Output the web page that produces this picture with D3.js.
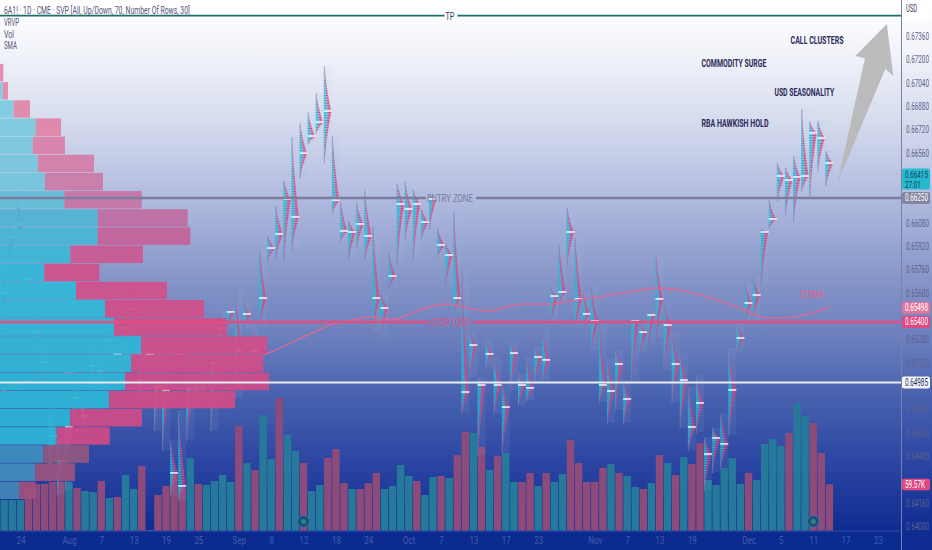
<!DOCTYPE html>
<html><head><meta charset="utf-8">
<script src="https://cdn.jsdelivr.net/npm/d3@7"></script>
<style>html,body{margin:0;padding:0;background:#fff;overflow:hidden}svg{display:block}text{font-family:Roboto,"Liberation Sans",sans-serif}</style>
</head><body><div id="chart"></div>
<script>
// ---------- data ----------
const candleHigh=[.65791,.66065,.66305,.65756,.65551,.65277,.64831,.64660,.64797,.64968,.64865,.65242,.65208,.65379,.65311,.65551,.65654,.65242,.65277,.65071,.65105,.64591,.64797,.65037,.65037,.65071,.65242,.65482,.65503,.65619,.65537,.65379,.65900,.65996,.66202,.66373,.66668,.66764,.66840,.66970,.67155,.66682,.66236,.66099,.66216,.66305,.66065,.65599,.65873,.66353,.66360,.66305,.66181,.66284,.66044,.65942,.66168,.65756,.65331,.65023,.65277,.65160,.64982,.65263,.65050,.65160,.65229,.65345,.65633,.65942,.66188,.65976,.65599,.65640,.65393,.65153,.65208,.65002,.65434,.65393,.65469,.65846,.65537,.65325,.65194,.64954,.65037,.64612,.64680,.64776,.65222,.65400,.65674,.65708,.66044,.66236,.66490,.66463,.66545,.66867,.66778,.66785,.66579];
const candleLow=[.65345,.65825,.65962,.65551,.65174,.65016,.64317,.64214,.64248,.64728,.64660,.64934,.64968,.65105,.65002,.65105,.65242,.64865,.65002,.64660,.64523,.64214,.64180,.64591,.64831,.64865,.64660,.64920,.65359,.64879,.65345,.65140,.65366,.65825,.65839,.65825,.65907,.66394,.66627,.66702,.66497,.66154,.65962,.65825,.65914,.65825,.65331,.65290,.65640,.65804,.65976,.65839,.65976,.66044,.65846,.65654,.65462,.64776,.65023,.64488,.65092,.64776,.64502,.64934,.64831,.64865,.64982,.65002,.65379,.65530,.65791,.65366,.65393,.65208,.64852,.64708,.64797,.64708,.64989,.65187,.65242,.65290,.65071,.64852,.64680,.64523,.64646,.64248,.64372,.64399,.64625,.65194,.65414,.65414,.65654,.66051,.66236,.66147,.66099,.66305,.66257,.66442,.66339];
const candlePoc=[.65599,.65983,.66072,.65695,.65331,.65126,.64618,.64447,.64680,.64879,.64756,.65098,.65064,.65277,.65181,.65359,.65489,.65002,.65181,.64954,.64934,.64365,.64276,.64941,.64948,.64989,.65119,.65359,.65469,.65208,.65455,.65201,.65564,.65907,.66003,.66243,.66120,.66558,.66675,.66771,.66846,.66236,.66024,.66017,.66072,.65990,.65564,.65496,.65715,.66209,.66175,.66209,.66085,.66243,.65928,.65859,.65564,.64920,.65242,.64968,.65181,.64968,.64817,.65187,.64968,.64948,.65160,.65140,.65578,.65606,.66017,.65558,.65455,.65407,.64968,.64927,.65112,.64872,.65407,.65331,.65448,.65558,.65379,.65112,.65002,.64680,.64845,.64495,.64605,.64564,.64934,.65290,.65530,.65585,.66017,.66106,.66401,.66373,.66394,.66401,.66696,.66661,.66490];
const volumeK=[39.5,39.5,39.5,54.9,60.0,60.0,62.5,62.5,62.5,54.9,51.0,49.7,63.8,42.1,43.4,71.4,53.6,82.9,1.3,45.9,57.4,71.4,54.9,93.1,60.0,58.7,63.8,71.4,62.5,133.9,86.7,77.8,148.0,91.8,169.7,122.5,102.0,86.7,51.0,58.7,93.1,104.6,61.2,53.6,53.6,61.2,74.0,53.6,57.4,84.2,70.2,63.8,45.9,68.9,70.2,67.6,96.9,126.3,125.0,107.2,77.8,95.7,99.5,62.5,62.5,74.0,57.4,74.0,62.5,72.7,116.1,86.7,62.5,62.5,80.4,85.5,74.0,70.2,56.1,53.6,61.2,96.9,86.7,71.4,94.4,85.5,112.3,65.1,58.7,80.4,93.1,60.0,74.0,65.1,111.0,117.4,108.4,125.0,163.3,146.7,137.8,99.5,59.57];
const volumeDir="UUUDDDDDUDUUDUDUUDUDDDDUDUUUUDUDUUDUUDUUDDDUDDDUUUUDUUDUDDUDUDUUDDUDUUDDDDDUDUUDUDUDUDDUUUUUDUUUUDUUDDD";
const dateLabels=["24","Aug","7","13","19","25","Sep","8","12","18","24","Oct","7","13","17","23","Nov","7","13","19","Dec","5","11","17","23"];
const dateIndex=[2,8,12,16,20,24,29,33,37,41,45,50,54,58,62,66,73,77,81,85,92,96,100,104,108];
const priceTicks=[.6736,.672,.6704,.6688,.6672,.6656,.6608,.6592,.6576,.656,.6528,.6512,.648,.6464,.6448,.6416,.640];
const profileUp=[0,2.7,13.7,35.7,32.7,37.7,45,64.3,97.7,97.7,70.3,44.3,76,105,114,141,131.3,125,109,70.3,56.7,43.3,35,19];
const profileDown=[3.3,5.3,16.3,25.3,32.3,56.3,58,77.4,90,92.6,72.7,55,91,99,112.7,126.3,132,144,126,71.7,53,45.7,40,16.7];
const profileTop=.67169, profileStep=.001245;
const smaIndex=[-0.5,4.4,10.6,14,17.6,19.3,25.8,31.3,32.9,37.8,40.3,43.1,45,48.1,51.4,53.5,55.1,56.7,59.7,63.8,67.5,70.8,76.1,80.7,83.5,86.9,90.6,94.3,97.5,102.1];
const smaPrice=[.64920,.65023,.65078,.65146,.65187,.65187,.65160,.65160,.65194,.65318,.65380,.65414,.65434,.65420,.65482,.65516,.65523,.65503,.65475,.65523,.65523,.65551,.65592,.65633,.65619,.65571,.65503,.65428,.65434,.65503];
const arrowIndex=[109.1,109.9,108.9,103,106.4,105.2];
const arrowPrice=[.67443,.67086,.67134,.66355,.67208,.67223];
const notes=[["CALL CLUSTERS",97.2,.67333,53],["COMMODITY SURGE",86.2,.67169,65],["USD SEASONALITY",95.2,.66970,60],["RBA HAWKISH HOLD",86.2,.66764,67]];
const levels=[{p:.6625,c:"#7c7c9c",t:"ENTRY ZONE",w:46,lw:2.5},{p:.654,c:"#e64c80",t:"STOP LOSS",w:39,lw:2.5},{p:.64985,c:"#e9ebf3",t:"",w:0,lw:2},{p:.675,c:"#1f6f68",t:"TP",w:9,lw:1.8}];
const badges=[{p:.65498,c:"#e0769e",t:"0.65498",f:"#fff"},{p:.6625,c:"#85859f",t:"0.66250",f:"#fff"},{p:.654,c:"#e0487f",t:"0.65400",f:"#fff"},{p:.64985,c:"#f4f5fa",t:"0.64985",f:"#2a2f55"}];

// ---------- layout ----------
const W=932,H=550,plotR=901,axisY=531;
const svg=d3.select("#chart").append("svg").attr("width",W).attr("height",H);
const defs=svg.append("defs");
const grad=defs.append("linearGradient").attr("id","bg").attr("gradientUnits","userSpaceOnUse").attr("x1",0).attr("x2",0).attr("y1",0).attr("y2",H);
[[0,"#ffffff"],[16,"#fdfdff"],[60,"#eff1f8"],[120,"#d6dcee"],[200,"#b0badf"],[280,"#8595c8"],[340,"#6a7ebd"],[400,"#4660ae"],[460,"#2d46a3"],[531,"#0f2c92"]]
 .forEach(s=>grad.append("stop").attr("offset",s[0]/H).attr("stop-color",s[1]));
svg.append("rect").attr("width",W).attr("height",H).attr("fill","url(#bg)");

// condensed look: every label is squeezed horizontally to the width it has in the picture
const fit=(sel,w)=>sel.each(function(){
  const t=d3.select(this), x0=+t.attr("x")||0, k=w/this.getComputedTextLength();
  t.attr("transform",`translate(${x0},0) scale(${k},1) translate(${-x0},0)`);
});

const x=d3.scaleLinear().domain([0,102]).range([4.2,829.4]);
const y=d3.scaleLinear().domain([.6625,.64]).range([198,526.2]);
const vol=d3.scaleLinear().domain([0,59.57]).range([axisY,484.3]);
const prof=d3.scaleLinear().domain([0,269]).range([0,269]);
const plot=svg.append("g");

// volume
plot.selectAll("rect.v").data(volumeK).join("rect").attr("class","v")
 .attr("x",(d,i)=>x(i)-3.7).attr("width",7.4).attr("y",d=>vol(d)).attr("height",d=>axisY-vol(d))
 .attr("fill",(d,i)=>volumeDir[i]==="U"?"#26799b":"#8c4b7b");

// faint guide lines
[.66415,.66305].forEach(p=>plot.append("line").attr("x1",0).attr("x2",plotR).attr("y1",y(p)).attr("y2",y(p))
 .attr("stroke","#7f9fd8").attr("stroke-opacity",.4).attr("stroke-dasharray","1 3"));

// footprints
const rowStep=.000115;
const cand=plot.selectAll("g.c").data(candlePoc.map((poc,i)=>({i,poc,hi:candleHigh[i],lo:candleLow[i]}))).join("g").attr("class","c");
cand.append("rect").attr("x",d=>x(d.i)-4).attr("width",8).attr("y",d=>y(d.hi)).attr("height",d=>y(d.lo)-y(d.hi))
 .attr("fill","#9fc4ea").attr("opacity",.09);
cand.each(function(d){
  const rows=d3.range(d.lo,d.hi,rowStep).map(p=>{
    const span=p>d.poc?(d.hi-d.poc||1):(d.poc-d.lo||1);
    const k=1-Math.abs(p-d.poc)/span;
    return {p,w:1+6.5*Math.pow(Math.max(k,0),1.5)};
  });
  const g=d3.select(this);
  g.selectAll("rect.u").data(rows).join("rect").attr("class","u")
   .attr("x",x(d.i)-4).attr("width",r=>r.w*.55).attr("y",r=>y(r.p)).attr("height",1.2).attr("fill","#1fbad6");
  g.selectAll("rect.d").data(rows).join("rect").attr("class","d")
   .attr("x",r=>x(d.i)-4+r.w*.55).attr("width",r=>r.w*.45).attr("y",r=>y(r.p)).attr("height",1.2).attr("fill","#e2407e");
});
cand.append("rect").attr("class","poc").attr("x",d=>x(d.i)-4).attr("width",8).attr("y",d=>y(d.poc)-.7).attr("height",1.4).attr("fill","#fff");

// SMA
plot.append("path").datum(smaIndex.map((s,i)=>[s,smaPrice[i]]))
 .attr("fill","none").attr("stroke","#e4678f").attr("stroke-width",1.3)
 .attr("d",d3.line().x(d=>x(d[0])).y(d=>y(d[1])).curve(d3.curveMonotoneX));

// volume-by-price profile
const upCol=d3.scaleLinear().domain([0,6,8,11,20,21,23]).range(["#80cce0","#74c6dc","#50b3d3","#32b8d8","#2cb4d6","#3f8fc0","#4288b8"]);
const dnCol=d3.scaleLinear().domain([0,3,6,8,11,20,21,23]).range(["#e488aa","#e082a6","#cb7aa8","#bf6b9f","#d24f8a","#cf4b88","#93577f","#a0507f"]);
const pg=plot.append("g");
const rowH=Math.abs(y(.64+2*profileStep)-y(.64+profileStep));
profileUp.forEach((u,i)=>{
  const top=y(profileTop-i*profileStep), hh=rowH-.7;
  pg.append("rect").attr("x",0).attr("y",top).attr("width",prof(u)).attr("height",hh).attr("fill",upCol(i)).attr("fill-opacity",.92);
  pg.append("rect").attr("x",prof(u)).attr("y",top).attr("width",prof(profileDown[i])).attr("height",hh).attr("fill",dnCol(i)).attr("fill-opacity",.92);
});

// arrow
plot.append("polygon").attr("points",arrowIndex.map((a,i)=>x(a)+","+y(arrowPrice[i])).join(" ")).attr("fill","#b8b8b8").attr("fill-opacity",.95);

// horizontal levels
levels.forEach(l=>{
  const yy=y(l.p), half=l.w?l.w/2+1:0;
  if(half){
    plot.append("line").attr("x1",0).attr("x2",450-half).attr("y1",yy).attr("y2",yy).attr("stroke",l.c).attr("stroke-width",l.lw);
    plot.append("line").attr("x1",450+half+2).attr("x2",plotR).attr("y1",yy).attr("y2",yy).attr("stroke",l.c).attr("stroke-width",l.lw);
    plot.append("text").attr("x",450-l.w/2).attr("y",yy+4).attr("font-size",11.5).attr("fill",l.t==="TP"?"#3a4560":l.c).text(l.t).call(fit,l.w);
  } else {
    plot.append("line").attr("x1",0).attr("x2",plotR).attr("y1",yy).attr("y2",yy).attr("stroke",l.c).attr("stroke-width",l.lw);
  }
});

// annotations
notes.forEach(n=>plot.append("text").attr("x",x(n[1])).attr("y",y(n[2])+3.5).attr("font-size",10.5).attr("font-weight",700).attr("fill","#2c2a58").text(n[0]).call(fit,n[3]));
plot.append("text").attr("x",x(98.3)).attr("y",y(.65590)+3.5).attr("font-size",10.5).attr("fill","#e35d8c").text("55 DMA").call(fit,24);

// legend
[["6A1! · 1D · CME · SVP [All, Up/Down, 70, Number Of Rows, 30]",14.5,186],["VRVP",26,15],["Vol",38,10],["SMA",49.5,13]].forEach(t=>
  svg.append("text").attr("x",4).attr("y",t[1]).attr("font-size",10.5).attr("fill","#55557a").text(t[0]).call(fit,t[2]));

// icons on the volume panel
[37,100].forEach(i=>{
  svg.append("circle").attr("cx",x(i)).attr("cy",521.5).attr("r",6).attr("fill","#1d4f7d").attr("stroke","#4d6fa6");
  svg.append("circle").attr("cx",x(i)).attr("cy",521.5).attr("r",2.5).attr("fill","#2b8f7c").attr("fill-opacity",.85);
});

// time axis
svg.append("rect").attr("y",axisY).attr("width",plotR).attr("height",H-axisY).attr("fill","#0c2b90");
svg.append("line").attr("x1",0).attr("x2",plotR).attr("y1",axisY).attr("y2",axisY).attr("stroke","#2b4aa3");
const xAxis=d3.axisBottom(x).tickValues(dateIndex).tickSize(0).tickFormat((d,i)=>dateLabels[i]);
const xg=svg.append("g").attr("transform",`translate(0,${axisY+3})`).call(xAxis);
xg.select(".domain").remove();
xg.selectAll("text").attr("font-size",10).attr("fill","#3f5cae").style("font-family","Roboto,sans-serif").each(function(){
  d3.select(this).attr("transform","scale(.8,1)");
});

// price axis
svg.append("line").attr("x1",plotR+.5).attr("x2",plotR+.5).attr("y1",0).attr("y2",H).attr("stroke","#7c7fa8");
const yAxis=d3.axisRight(y).tickValues(priceTicks).tickSize(0).tickPadding(1).tickFormat(d3.format(".5f"));
const yg=svg.append("g").attr("transform",`translate(${plotR+4},0)`).call(yAxis);
yg.select(".domain").remove();
yg.selectAll("text").attr("font-size",10.5).attr("fill","#5f5f8c").style("font-family","Roboto,sans-serif").call(fit,23);

// badges
function badge(yTop,h,fill,lines,col,tx,fs,gap){
  svg.append("rect").attr("x",902).attr("y",yTop).attr("width",28).attr("height",h).attr("rx",2).attr("fill",fill);
  lines.forEach((t,i)=>svg.append("text").attr("x",tx||905).attr("y",yTop+9.2+i*(gap||10)).attr("font-size",fs||10.5).attr("fill",col).text(t[0]).call(fit,t[1]));
}
badge(3,17,"#ffffff",[["USD",11]],"#333a5a",906);
badge(y(.66415)-5.5,21,"#25bad2",[["0.66415",23],["27:01",16]],"#1b3a55",905,9,10.5);
badges.forEach(b=>badge(y(b.p)-6,12,b.c,[[b.t,23]],b.f));
badge(vol(59.57)-5.5,11.5,"#e0487f",[["59.57K",20]],"#fff");
</script></body></html>
